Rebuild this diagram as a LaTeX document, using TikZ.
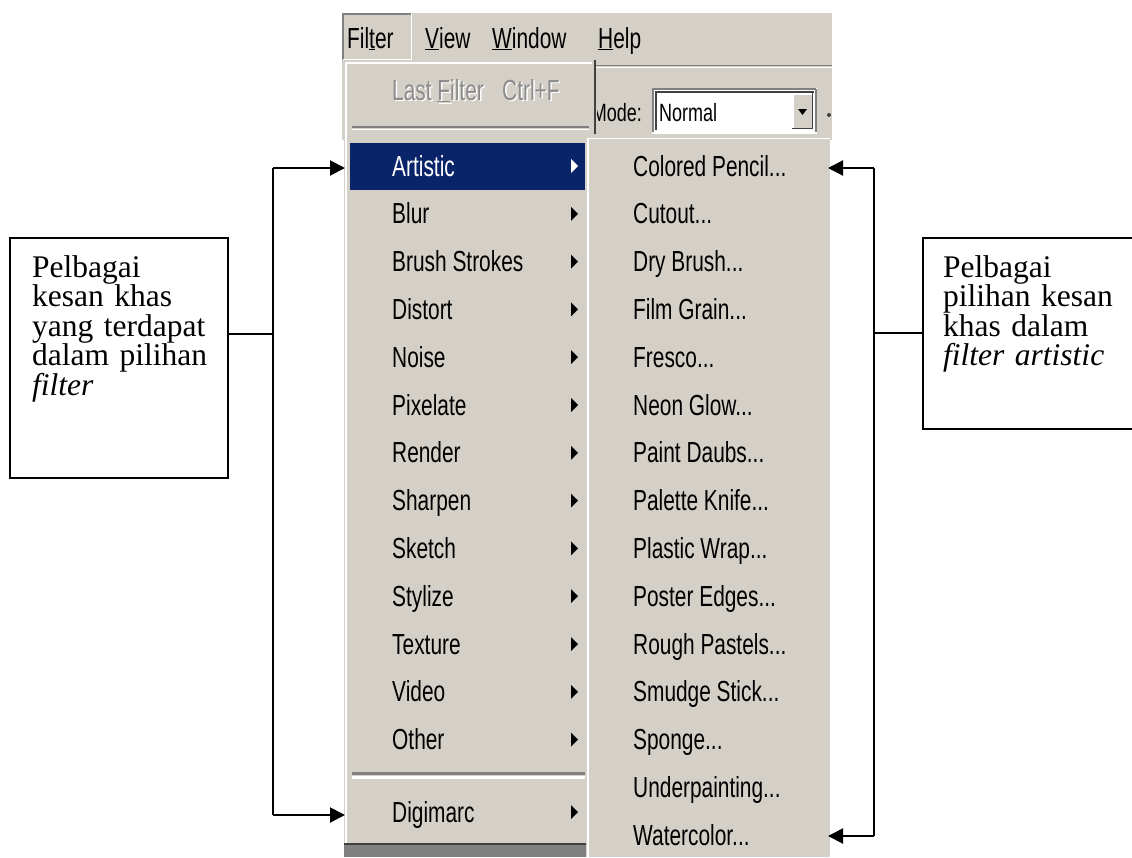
\documentclass[tikz,border=0pt]{standalone}
\usepackage{fontspec}
\setmainfont{Liberation Serif}
\newfontfamily\menufont[FakeStretch=0.72]{Liberation Sans}
\usetikzlibrary{arrows.meta}
\definecolor{winface}{HTML}{D4D0C8}
\definecolor{winshadow}{HTML}{808080}
\definecolor{windark}{HTML}{404040}
\definecolor{winsel}{HTML}{0A246A}
\definecolor{wingrey}{HTML}{8C8C8C}
\newcommand{\mdots}{...}

\begin{document}
\begin{tikzpicture}[x=1pt,y=-1pt,
  item/.style={anchor=base west, inner sep=0pt, text=black,
    font=\menufont\fontsize{29}{29}\selectfont},
  tbtext/.style={anchor=base west, inner sep=0pt, text=black,
    font=\menufont\fontsize{25}{25}\selectfont},
  callout/.style={draw=black, line width=1.8pt, fill=white, inner sep=0pt},
  note/.style={anchor=base west, inner sep=0pt, align=left,
    font=\fontsize{31.5}{29.6}\selectfont},
  link/.style={line width=2pt, draw=black},
  tip/.style={link, -{Triangle[length=15pt,width=15pt]}}
]
\useasboundingbox (0,0) rectangle (1132,857);

% ---------- window chrome: menu bar and toolbar strip ----------
\fill[winface] (342,13) rectangle (832,140);
% pressed "Filter" title
\draw[winshadow, line width=1.5pt] (342.75,60) -- (342.75,13.75) -- (412,13.75);
\draw[white, line width=1.5pt] (343,59.5) -- (411.5,59.5) -- (411.5,13);
\node[item] (mbfilter) at (347,48) {Fil\underline{t}er};
\node[item] (mbview)   at (425,48) {\underline{V}iew};
\node[item] (mbwindow) at (492,48) {\underline{W}indow};
\node[item] (mbhelp)   at (598,48) {\underline{H}elp};

% toolbar groove and document edge
\draw[winshadow, line width=1.2pt] (596,65.5) -- (832,65.5);
\draw[white, line width=1.5pt] (596,67.5) -- (832,67.5);

% "Mode:" label, partly hidden behind the dropdown edge
\begin{scope}
  \clip (597,80) rectangle (650,136);
  \node[tbtext, anchor=base east] (modelabel) at (642,121) {Mode:};
\end{scope}

% combo box
\fill[white] (652,88) rectangle (817,133);
\draw[winshadow, line width=2pt] (653,132) -- (653,89) -- (816,89);
\draw[windark, line width=2pt] (655.5,130) -- (655.5,91.5) -- (814,91.5);
\draw[winshadow, line width=2pt] (816,89) -- (816,133);
\draw[white, line width=1.5pt] (652,132.8) -- (817,132.8);
\node[tbtext] (normal) at (659,121) {Normal};
\fill[winface] (792,93) rectangle (813,129);
\draw[white, line width=1.5pt] (792.75,129) -- (792.75,93.75) -- (813,93.75);
\draw[windark, line width=1.5pt] (792,128.25) -- (812.25,128.25) -- (812.25,93);
\fill[black] (798,109) -- (807,109) -- (802.5,115) -- cycle;
\fill[windark] (829,115) circle (2);

% ---------- Filter drop-down menu ----------
\fill[winface] (344,62) rectangle (593,857);
\draw[white, line width=1.5pt] (346,857) -- (346,63) -- (592,63);
\draw[windark, line width=2pt] (595,60) -- (595,134);

% disabled entry: grey text with a white emboss
\node[item, text=white] (lastfilter0) at (393.5,101.5) {Last \underline{F}ilter};
\node[item, text=wingrey] (lastfilter) at (392,100) {Last \underline{F}ilter};
\node[item, text=white] (ctrlf0) at (503.5,101.5) {Ctrl+F};
\node[item, text=wingrey] (ctrlf) at (502,100) {Ctrl+F};

\draw[winshadow, line width=1.8pt] (352,127) -- (589,127);
\draw[white, line width=1.8pt] (352,129.5) -- (589,129.5);

% highlighted entry
\node[fill=winsel, inner sep=0pt, minimum width=235pt, minimum height=47pt,
      anchor=north west] (artbar) at (350,143) {};
\node[item, text=white] (m0) at (392,176) {Artistic};
\fill[white] (571,159) -- (578,166) -- (571,173) -- cycle;

\foreach \lab [count=\i] in {Blur,Brush Strokes,Distort,Noise,Pixelate,Render,
    Sharpen,Sketch,Stylize,Texture,Video,Other} {
  \pgfmathsetmacro\yb{176+47.8*\i}
  \node[item] (m\i) at (392,\yb) {\lab};
  \fill[black] (571,\yb-17) -- (578,\yb-10) -- (571,\yb-3) -- cycle;
}

\draw[winshadow, line width=2.5pt] (352,773.5) -- (585,773.5);
\draw[white, line width=2.5pt] (352,777.5) -- (585,777.5);

\node[item] (digimarc) at (392,822) {Digimarc};
\fill[black] (571,805) -- (578,812) -- (571,819) -- cycle;

\fill[winshadow] (344,843) rectangle (586,857);
\draw[windark, line width=2pt] (344,844) -- (586,844);

% ---------- Artistic submenu ----------
\fill[winface] (587,137) rectangle (830,857);
\draw[white, line width=1.5pt] (588,857) -- (588,138.5) -- (830,138.5);
\foreach \lab [count=\i from 0] in {Colored Pencil\mdots,Cutout\mdots,
    Dry Brush\mdots,Film Grain\mdots,Fresco\mdots,Neon Glow\mdots,
    Paint Daubs\mdots,Palette Knife\mdots,Plastic Wrap\mdots,
    Poster Edges\mdots,Rough Pastels\mdots,Smudge Stick\mdots,
    Sponge\mdots,Underpainting\mdots,Watercolor\mdots} {
  \pgfmathsetmacro\yb{176+47.8*\i}
  \node[item] (s\i) at (633,\yb) {\lab};
}

% ---------- callouts ----------
\node[callout, minimum width=218pt, minimum height=240pt, anchor=north west]
  (lbox) at (9,237) {};
\node[note, text width=195pt] (ltext) at (32,277)
  {Pelbagai\\kesan khas\\yang terdapat\\dalam pilihan\\\textit{filter}};

\node[callout, minimum width=214pt, minimum height=191pt, anchor=north west]
  (rbox) at (922,237) {};
\node[note, text width=185pt] (rtext) at (943,277)
  {Pelbagai\\pilihan kesan\\khas dalam\\\textit{filter artistic}};

% ---------- connectors ----------
\coordinate (lbustop) at (273,168);
\coordinate (lbusbot) at (273,815);
\coordinate (artin)   at (345,168);
\coordinate (digin)   at (345,815);
\draw[link] ([yshift=24pt]lbox.east) -- ([yshift=24pt]lbox.east -| lbustop);
\draw[link] (lbustop) -- (lbusbot);
\draw[tip] (lbustop) -- (artin);
\draw[tip] (lbusbot) -- (digin);

\coordinate (rbustop) at (874,168);
\coordinate (rbusbot) at (874,836);
\coordinate (cpin)    at (828,168);
\coordinate (wcin)    at (828,836);
\draw[link] (rbox.west) -- (rbox.west -| rbustop);
\draw[link] (rbustop) -- (rbusbot);
\draw[tip] (rbustop) -- (cpin);
\draw[tip] (rbusbot) -- (wcin);
\end{tikzpicture}
\end{document}
